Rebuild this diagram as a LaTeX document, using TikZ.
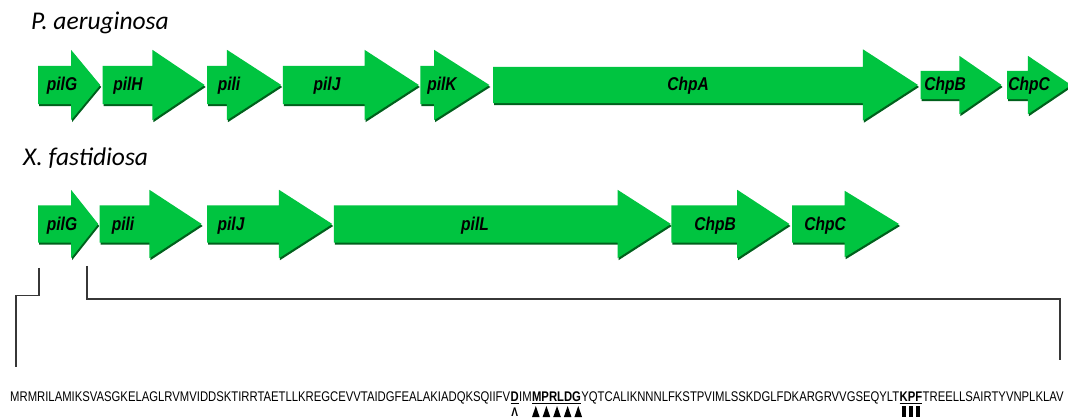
\documentclass[tikz,border=0pt]{standalone}
\usepackage{fontspec}
\setmainfont{Liberation Sans}
\newfontfamily\speciesfont{Carlito}
\newfontfamily\genefont[FakeStretch=0.84]{Liberation Sans}
\newfontfamily\seqfont[FakeStretch=0.807]{Liberation Sans}
\usetikzlibrary{shapes.arrows,shadows,positioning,calc}
\definecolor{geneGreen}{RGB}{0,196,64}
\definecolor{geneShade}{RGB}{0,96,28}
\definecolor{bracketGray}{RGB}{55,55,55}

\begin{document}
\begin{tikzpicture}[x=1pt,y=-1pt,
  gene/.style 2 args={single arrow,fill=geneGreen,draw=none,inner xsep=0pt,inner ysep=19pt,
    single arrow head extend=16pt,minimum height=#1pt,single arrow tip angle=#2,
    general shadow={shadow xshift=1pt,shadow yshift=-2pt,fill=geneShade}},
  slim/.style={inner ysep=14pt,single arrow head extend=15pt},
  rowb/.style={inner ysep=18.5pt,single arrow head extend=15.5pt},
  glabel/.style={font=\genefont\fontsize{18.5}{21}\selectfont\bfseries\itshape,anchor=base,inner sep=0pt},
  species/.style={font=\speciesfont\fontsize{25.5}{30}\selectfont\itshape,anchor=base west,inner sep=0pt},
  seqtext/.style={font=\seqfont\fontsize{14}{16}\selectfont,inner sep=0pt},
  bracket/.style={draw=bracketGray,line width=1.3pt}
]
\path[use as bounding box,fill=white] (0,0) rectangle (1068,419);

% P. aeruginosa cluster
\node[species] (spPa) at (31,30) {P. aeruginosa};
\node[gene={62}{100.7},anchor=west] (aPilG) at (38,85) {};
\node[gene={102}{67.9},right=2pt of aPilG] (aPilH) {};
\node[gene={74}{65.9},right=2pt of aPilH] (aPili) {};
\node[gene={136}{65.9},right=1pt of aPili] (aPilJ) {};
\node[gene={69}{64.9},right=1pt of aPilJ] (aPilK) {};
\node[gene={425}{65.9},inner ysep=18pt,single arrow head extend=17.5pt,right=3pt of aPilK] (aChpA) {};
\node[gene={81}{69.3},slim,right=2pt of aChpA] (aChpB) {};
\node[gene={64}{68},slim,right=5pt of aChpB] (aChpC) {};
\node[glabel] (lAPilG) at (62,91) {pilG};
\node[glabel] (lAPilH) at (128,91) {pilH};
\node[glabel] (lAPili) at (229,91) {pili};
\node[glabel] (lAPilJ) at (327,91) {pilJ};
\node[glabel] (lAPilK) at (442,91) {pilK};
\node[glabel] (lAChpA) at (688,91) {ChpA};
\node[glabel] (lAChpB) at (945,91) {ChpB};
\node[glabel] (lAChpC) at (1029,91) {ChpC};

% X. fastidiosa cluster
\node[species] (spXf) at (23,166) {X. fastidiosa};
\node[gene={60}{103.1},rowb,anchor=west] (bPilG) at (38,224) {};
\node[gene={102}{66.4},rowb,right=1pt of bPilG] (bPili) {};
\node[gene={125}{65.4},rowb,right=5pt of bPili] (bPilJ) {};
\node[gene={337}{65.4},rowb,right=1pt of bPilJ] (bPilL) {};
\node[gene={118}{66.4},rowb,right=0pt of bPilL] (bChpB) {};
\node[gene={107}{62.9},rowb,single arrow head extend=14.5pt,right=2pt of bChpB] (bChpC) {};
\node[glabel] (lBPilG) at (62,231) {pilG};
\node[glabel] (lBPili) at (123,231) {pili};
\node[glabel] (lBPilJ) at (231,231) {pilJ};
\node[glabel] (lBPilL) at (475,231) {pilL};
\node[glabel] (lBChpB) at (715,231) {ChpB};
\node[glabel] (lBChpC) at (825,231) {ChpC};

% PilG sequence
\node[seqtext,anchor=base west] (seqA) at (10,402) {MRMRILAMIKSVASGKELAGLRVMVIDDSKTIRRTAETLLKREGCEVVTAIDGFEALAKIADQKSQIIFV};
\node[seqtext,base right=0pt of seqA] (motD) {\textbf{\underline{D}}};
\node[seqtext,base right=0pt of motD] (seqB) {IM};
\node[seqtext,base right=0pt of seqB] (motMPR) {\textbf{\underline{MPRLDG}}};
\node[seqtext,base right=0pt of motMPR] (seqC) {YQTCALIKNNNLFKSTPVIMLSSKDGLFDKARGRVVGSEQYLT};
\node[seqtext,base right=0pt of seqC] (motKPF) {\textbf{\underline{KPF}}};
\node[seqtext,base right=0pt of motKPF] (seqD) {TREELLSAIRTYVNPLKLAV};
\node[seqtext,font=\seqfont\fontsize{12.5}{13}\selectfont,anchor=base] (caretD) at ($(motD.base)+(0,14)$) {\textbf{Λ}};
\foreach \t in {0.08,0.295,0.51,0.725,0.94}
  \fill ($(motMPR.base west)!\t!(motMPR.base east)+(-3.8,15)$) -- ++(3.8,-11) -- ++(3.8,11) -- cycle;
\foreach \t in {0.2,0.5,0.8}
  \fill ($(motKPF.base west)!\t!(motKPF.base east)+(-2.3,4)$) rectangle ++(4.6,11);

% brackets from pilG to its sequence
\coordinate (brAtop) at (39,268);
\coordinate (brAend) at (16,367);
\coordinate (brBtop) at (87,266);
\coordinate (brBend) at (1060,360);
\draw[bracket] (brAtop) -- ++(0,27.5) -| (brAend);
\draw[bracket] (brBtop) -- ++(0,33) -| (brBend);
\end{tikzpicture}
\end{document}
